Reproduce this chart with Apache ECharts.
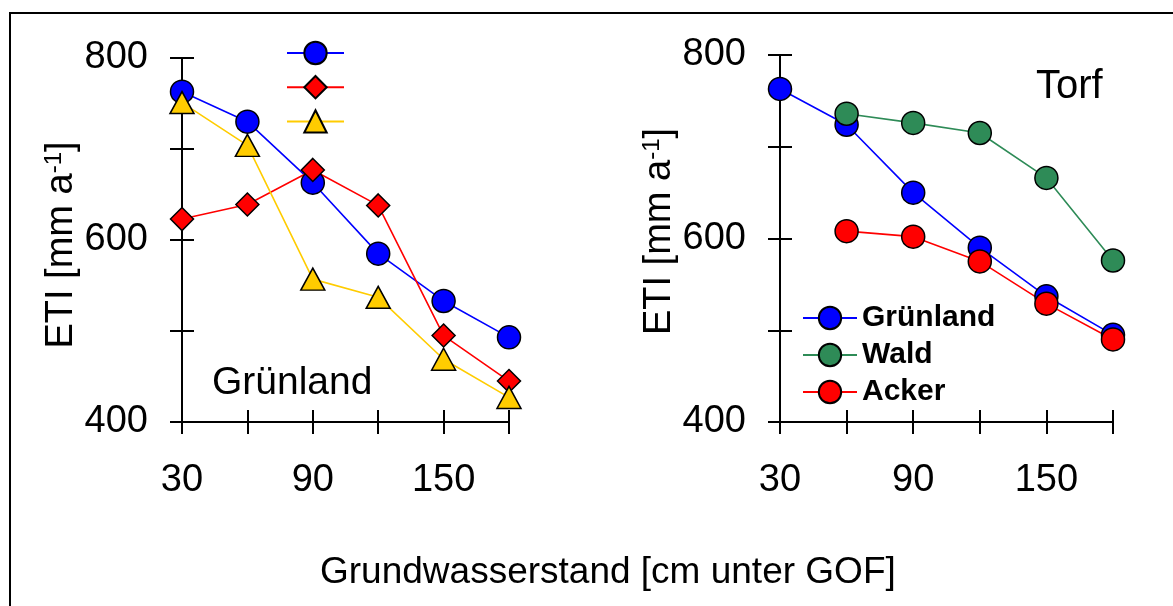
<!DOCTYPE html>
<html>
<head>
    <meta charset="utf-8">
    <title>ETI Grundwasserstand</title>
    <script src="https://cdn.jsdelivr.net/npm/echarts@6/dist/echarts.min.js"></script>
    <style>
        html, body { margin: 0; padding: 0; background: #fff; }
        #chart { width: 1173px; height: 606px; }
    </style>
</head>
<body>
<div id="chart"></div>
<script type="text/javascript">
    // Grundwasserstand [cm unter GOF]
    var xWerte = [30, 60, 90, 120, 150, 180];
    var xWerteKurz = [60, 90, 120, 150, 180];
    var xBeschriftung = [30, 90, 150];
    var yBeschriftung = [400, 600, 800];

    // linkes Diagramm (Grünland), Legendentext fehlt im Original
    var linksKreis = [763, 730, 663, 585, 533, 493];
    var linksRaute = [623, 639, 677, 638, 495, 445];
    var linksDreieck = [751, 704, 557, 537, 469, 427];

    // rechtes Diagramm (Torf)
    var torfGruenland = [763, 724, 650, 590, 537, 495];
    var torfWald = [736, 726, 715, 666, 576];
    var torfAcker = [608, 602, 575, 529, 490];

    var schrift = 'Liberation Sans, Arial, sans-serif';

    function paare(xs, ys) {
        return xs.map(function (x, i) { return [x, ys[i]]; });
    }

    var myChart = echarts.init(document.getElementById('chart'));

    function xAchse(grid, innen) {
        return {
            type: 'value', gridIndex: grid, position: 'bottom',
            min: 30, max: 180, interval: 30,
            axisLine: { show: !innen, lineStyle: { color: '#000', width: 2 } },
            axisTick: { show: true, inside: innen, length: 12, lineStyle: { color: '#000', width: 2 } },
            axisLabel: {
                show: !innen, margin: 40, color: '#000', fontSize: 38, fontFamily: schrift,
                formatter: function (v) { return xBeschriftung.indexOf(v) >= 0 ? String(v) : ''; }
            },
            splitLine: { show: false }
        };
    }

    // verschiebung: Innenabstand, um den Achsentitel entlang der Achse zu schieben
    function yAchse(grid, innen, verschiebung) {
        var achse = {
            type: 'value', gridIndex: grid, position: 'left',
            min: 400, max: 800, interval: 100,
            axisLine: { show: !innen, lineStyle: { color: '#000', width: 2 } },
            axisTick: { show: true, inside: innen, length: 12, lineStyle: { color: '#000', width: 2 } },
            axisLabel: {
                show: !innen, margin: 34, color: '#000', fontSize: 38, fontFamily: schrift,
                formatter: function (v) { return yBeschriftung.indexOf(v) >= 0 ? String(v) : ''; }
            },
            splitLine: { show: false }
        };
        if (!innen) {
            achse.name = '{t|ETI [mm a}{s|-1}{t|]}';
            achse.nameLocation = 'middle';
            achse.nameRotate = 90;
            achse.nameGap = 100;
            achse.nameTextStyle = {
                color: '#000', fontSize: 38, fontFamily: schrift,
                padding: verschiebung,
                rich: {
                    t: { fontSize: 38, fontFamily: schrift, color: '#000' },
                    s: { fontSize: 24, fontFamily: schrift, color: '#000', verticalAlign: 'top' }
                }
            };
        }
        return achse;
    }

    function linie(name, farbe, symbol, groesse, x, y, daten) {
        return {
            name: name, type: 'line', xAxisIndex: x, yAxisIndex: y,
            data: daten, symbol: symbol, symbolSize: groesse,
            lineStyle: { color: farbe, width: 1.6 },
            itemStyle: { color: farbe, borderColor: '#000', borderWidth: 1.5 },
            emphasis: { disabled: true },
            animation: false, z: 3
        };
    }

    myChart.setOption({
        animation: false,
        grid: [
            { left: 182, top: 58, width: 327, height: 364 },
            { left: 780, top: 55, width: 333, height: 367 }
        ],
        xAxis: [xAchse(0, false), xAchse(1, false), xAchse(0, true), xAchse(1, true)],
        yAxis: [
            yAchse(0, false, [0, 10, 0, 0]),
            yAchse(1, false, [0, 0, 0, 14]),
            yAchse(0, true),
            yAchse(1, true)
        ],
        legend: [
            {
                data: ['Serie 1', 'Serie 2', 'Serie 3'],
                orient: 'vertical', left: 286, top: 39, padding: 0,
                itemWidth: 57, itemHeight: 28, itemGap: 8,
                formatter: function () { return ''; },
                selectedMode: false
            },
            {
                data: ['Grünland', 'Wald', 'Acker'],
                orient: 'vertical', left: 802, top: 303, padding: 0,
                itemWidth: 54, itemHeight: 28, itemGap: 7,
                textStyle: { color: '#000', fontSize: 30, fontWeight: 'bold', fontFamily: schrift },
                selectedMode: false
            }
        ],
        series: [
            linie('Serie 1', '#0000ff', 'circle', 23, 0, 0, paare(xWerte, linksKreis)),
            linie('Serie 2', '#ff0000', 'diamond', 23, 0, 0, paare(xWerte, linksRaute)),
            linie('Serie 3', '#ffcc00', 'triangle', [24, 22], 0, 0, paare(xWerte, linksDreieck)),
            linie('Grünland', '#0000ff', 'circle', 23, 1, 1, paare(xWerte, torfGruenland)),
            linie('Wald', '#2e8b57', 'circle', 23, 1, 1, paare(xWerteKurz, torfWald)),
            linie('Acker', '#ff0000', 'circle', 23, 1, 1, paare(xWerteKurz, torfAcker))
        ],
        graphic: [
            {
                type: 'rect', silent: true,
                shape: { x: 10, y: 13, width: 1200, height: 700 },
                style: { fill: 'none', stroke: '#000', lineWidth: 2 }
            },
            {
                type: 'text', left: 212, top: 364,
                style: { text: 'Grünland', font: '39px ' + schrift, fill: '#000' }
            },
            {
                type: 'text', left: 1036, top: 67,
                style: { text: 'Torf', font: '40px ' + schrift, fill: '#000' }
            },
            {
                type: 'text', left: 320, top: 554,
                style: { text: 'Grundwasserstand [cm unter GOF]', font: '37px ' + schrift, fill: '#000' }
            }
        ]
    });
</script>
</body>
</html>
